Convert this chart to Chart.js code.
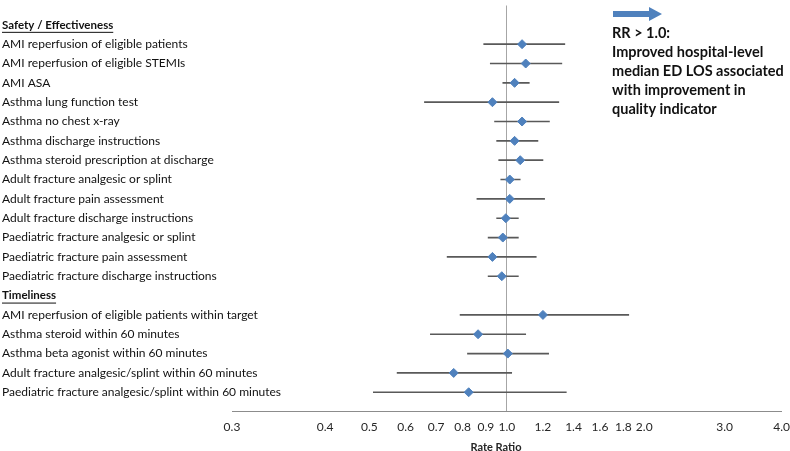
<!DOCTYPE html>
<html>
<head>
<meta charset="utf-8">
<script src="https://cdn.jsdelivr.net/npm/chart.js@4/dist/chart.umd.min.js"></script>
<style>
  html, body { margin: 0; padding: 0; background: #ffffff; }
  #wrap { position: relative; width: 790px; height: 451px; }
</style>
</head>
<body>
<div id="wrap"><canvas id="grafico"></canvas></div>
<script>
// secciones e indicadores
const safetyTitle = "Safety / Effectiveness";
const safetyLabels = [
  "AMI reperfusion of eligible patients",
  "AMI reperfusion of eligible STEMIs",
  "AMI ASA",
  "Asthma lung function test",
  "Asthma no chest x-ray",
  "Asthma discharge instructions",
  "Asthma steroid prescription at discharge",
  "Adult fracture analgesic or splint",
  "Adult fracture pain assessment",
  "Adult fracture discharge instructions",
  "Paediatric fracture analgesic or splint",
  "Paediatric fracture pain assessment",
  "Paediatric fracture discharge instructions",
];
const safetyRR = [1.08, 1.10, 1.04, 0.93, 1.08, 1.04, 1.07, 1.015, 1.015, 0.995, 0.98, 0.93, 0.975];
const safetyLower = [0.89, 0.92, 0.98, 0.66, 0.94, 0.95, 0.96, 0.97, 0.86, 0.95, 0.91, 0.74, 0.91];
const safetyUpper = [1.34, 1.32, 1.12, 1.30, 1.24, 1.17, 1.20, 1.07, 1.21, 1.06, 1.06, 1.16, 1.06];

const timelinessTitle = "Timeliness";
const timelinessLabels = [
  "AMI reperfusion of eligible patients within target",
  "Asthma steroid within 60 minutes",
  "Asthma beta agonist within 60 minutes",
  "Adult fracture analgesic/splint within 60 minutes",
  "Paediatric fracture analgesic/splint within 60 minutes",
];
const timelinessRR = [1.20, 0.865, 1.005, 0.765, 0.825];
const timelinessLower = [0.79, 0.68, 0.82, 0.575, 0.51];
const timelinessUpper = [1.85, 1.10, 1.235, 1.025, 1.35];

// eje x (escala logarítmica)
const tickValues = [0.25, 0.4, 0.5, 0.6, 0.7, 0.8, 0.9, 1.0, 1.2, 1.4, 1.6, 1.8, 2.0, 3.0, 4.0];
const tickLabels = ["0.3", "0.4", "0.5", "0.6", "0.7", "0.8", "0.9", "1.0", "1.2", "1.4", "1.6", "1.8", "2.0", "3.0", "4.0"];
const axisTitle = "Rate Ratio";

const noteLines = [
  "RR > 1.0:",
  "Improved hospital-level",
  "median ED LOS associated",
  "with improvement in",
  "quality indicator",
];

/*
  filas: hueco, título, indicadores, título, indicadores, hueco
*/
const filas = ["", safetyTitle, ...safetyLabels, timelinessTitle, ...timelinessLabels, ""];
const titulos = [safetyTitle, timelinessTitle];

const puntos = [null, null, ...safetyRR, null, ...timelinessRR, null];
const intervalos = [
  null,
  null,
  ...safetyLower.map((lo, i) => [lo, safetyUpper[i]]),
  null,
  ...timelinessLower.map((lo, i) => [lo, timelinessUpper[i]]),
  null,
];

const FUENTE = "Lato, 'Open Sans', sans-serif";

const etiquetasPlugin = {
  id: "etiquetas",
  afterDraw(chart) {
    const { ctx } = chart;
    const y = chart.scales.y;
    ctx.save();
    ctx.textBaseline = "middle";
    ctx.textAlign = "left";
    filas.forEach((texto, i) => {
      if (!texto) return;
      const esTitulo = titulos.includes(texto);
      ctx.font = esTitulo ? "bold 11.5px " + FUENTE : "12px " + FUENTE;
      ctx.fillStyle = "#111111";
      const py = y.getPixelForValue(i);
      ctx.fillText(texto, 2, py);
      if (esTitulo) {
        const w = ctx.measureText(texto).width;
        ctx.fillRect(2, py + 7, w, 1);
      }
    });

    // título del eje
    ctx.textAlign = "center";
    ctx.font = "bold 11px " + FUENTE;
    ctx.fillStyle = "#262626";
    ctx.fillText(axisTitle, 496, 447);

    // flecha y nota
    ctx.textAlign = "left";
    ctx.fillStyle = "#4f81bd";
    ctx.beginPath();
    ctx.moveTo(613, 11);
    ctx.lineTo(649, 11);
    ctx.lineTo(649, 7);
    ctx.lineTo(662, 14);
    ctx.lineTo(649, 21);
    ctx.lineTo(649, 17);
    ctx.lineTo(613, 17);
    ctx.closePath();
    ctx.fill();

    ctx.fillStyle = "#111111";
    ctx.font = "bold 14.5px " + FUENTE;
    noteLines.forEach((t, i) => {
      ctx.fillText(t, 612, 33 + i * 19);
    });
    ctx.restore();
  },
};

const canvas = document.getElementById("grafico");

new Chart(canvas, {
  type: "bar",
  data: {
    labels: filas,
    datasets: [
      {
        type: "bar",
        data: intervalos,
        backgroundColor: "#595959",
        borderWidth: 0,
        barThickness: 1,
        order: 2,
      },
      {
        type: "line",
        data: puntos,
        showLine: false,
        pointStyle: "rectRot",
        pointRadius: 4.5,
        pointBackgroundColor: "#4f81bd",
        pointBorderColor: "#4f81bd",
        pointBorderWidth: 1,
        order: 1,
      },
    ],
  },
  options: {
    indexAxis: "y",
    responsive: true,
    maintainAspectRatio: false,
    animation: false,
    layout: {
      padding: { left: 232, top: 0, right: 0, bottom: 17 },
    },
    plugins: {
      legend: { display: false },
      tooltip: { enabled: false },
    },
    scales: {
      y: {
        type: "category",
        offset: false,
        display: false,
      },
      x: {
        type: "logarithmic",
        min: 0.25,
        max: 4,
        afterBuildTicks: (scale) => {
          scale.ticks = tickValues.map((v) => ({ value: v }));
        },
        grid: {
          drawTicks: true,
          tickLength: 8,
          tickColor: "rgba(0,0,0,0)",
          color: (ctx) => (ctx.tick && ctx.tick.value === 1 ? "#a6a6a6" : "rgba(0,0,0,0)"),
          lineWidth: 1,
        },
        border: { display: true, color: "#8c8c8c", width: 1 },
        ticks: {
          autoSkip: false,
          maxRotation: 0,
          padding: 0,
          color: "#262626",
          font: { family: FUENTE, size: 12 },
          callback: (value, index) => tickLabels[index],
        },
      },
    },
  },
  plugins: [etiquetasPlugin],
});
</script>
</body>
</html>
